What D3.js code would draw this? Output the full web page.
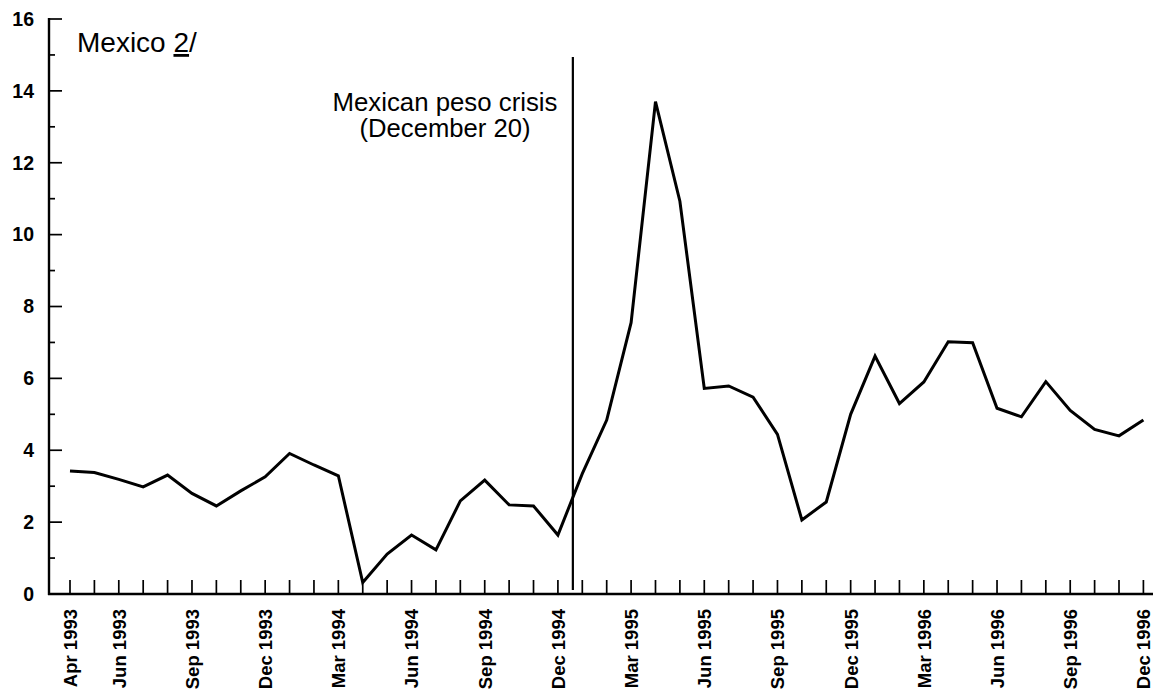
<!DOCTYPE html>
<html>
<head>
<meta charset="utf-8">
<script src="https://cdn.jsdelivr.net/npm/d3@7"></script>
<style>
  html, body { margin: 0; padding: 0; background: #fff; }
  svg { display: block; }
  text { font-family: "Liberation Sans", Arial, Helvetica, sans-serif; fill: #000; }
</style>
</head>
<body>
<svg id="chart" width="1155" height="696"></svg>
<script>
// ---- data ----
const months = [
  "Apr 1993","May 1993","Jun 1993","Jul 1993","Aug 1993","Sep 1993","Oct 1993","Nov 1993","Dec 1993",
  "Jan 1994","Feb 1994","Mar 1994","Apr 1994","May 1994","Jun 1994","Jul 1994","Aug 1994","Sep 1994","Oct 1994","Nov 1994","Dec 1994",
  "Jan 1995","Feb 1995","Mar 1995","Apr 1995","May 1995","Jun 1995","Jul 1995","Aug 1995","Sep 1995","Oct 1995","Nov 1995","Dec 1995",
  "Jan 1996","Feb 1996","Mar 1996","Apr 1996","May 1996","Jun 1996","Jul 1996","Aug 1996","Sep 1996","Oct 1996","Nov 1996","Dec 1996"
];
const values = [
  3.42, 3.38, 3.19, 2.98, 3.31, 2.80, 2.45, 2.87, 3.26,
  3.91, 3.59, 3.29, 0.32, 1.11, 1.64, 1.23, 2.59, 3.17, 2.48, 2.45, 1.64,
  3.35, 4.84, 7.55, 13.70, 10.93, 5.72, 5.79, 5.48, 4.44, 2.06, 2.56, 5.00,
  6.62, 5.30, 5.90, 7.02, 6.99, 5.17, 4.93, 5.91, 5.11, 4.58, 4.40, 4.84
];
const xTickLabels = [
  "Apr 1993","Jun 1993","Sep 1993","Dec 1993","Mar 1994","Jun 1994","Sep 1994","Dec 1994",
  "Mar 1995","Jun 1995","Sep 1995","Dec 1995","Mar 1996","Jun 1996","Sep 1996","Dec 1996"
];
const yTicks = [0, 2, 4, 6, 8, 10, 12, 14, 16];
const yMinorTicks = [1, 3, 5, 7, 9, 11, 13, 15];
const title = ["Mexico ", "2", "/"];
const annotation = ["Mexican peso crisis", "(December 20)"];
const crisisMonth = "Dec 1994";
const crisisDayFraction = 19 / 31;

// ---- layout ----
const svg = d3.select("#chart");
const axisX = 49, axisY = 594;
const x = d3.scalePoint().domain(months).range([70, 1143.4]);
const y = d3.scaleLinear().domain([0, 16]).range([594, 19]);

// y axis line
svg.append("line")
  .attr("x1", axisX).attr("x2", axisX)
  .attr("y1", y(16) - 1).attr("y2", axisY + 1)
  .attr("stroke", "#000").attr("stroke-width", 2.4);
// x axis line
svg.append("line")
  .attr("x1", axisX - 1).attr("x2", 1153)
  .attr("y1", axisY).attr("y2", axisY)
  .attr("stroke", "#000").attr("stroke-width", 2.4);

// y ticks major
svg.append("g").selectAll("line").data(yTicks).join("line")
  .attr("x1", axisX).attr("x2", axisX + 13)
  .attr("y1", d => y(d)).attr("y2", d => y(d))
  .attr("stroke", "#000").attr("stroke-width", 1.7);
// y ticks minor
svg.append("g").selectAll("line").data(yMinorTicks).join("line")
  .attr("x1", axisX).attr("x2", axisX + 6)
  .attr("y1", d => y(d)).attr("y2", d => y(d))
  .attr("stroke", "#000").attr("stroke-width", 1.7);
// y tick labels
svg.append("g").selectAll("text").data(yTicks).join("text")
  .attr("x", 34).attr("y", d => y(d))
  .attr("dy", "0.35em")
  .attr("text-anchor", "end")
  .attr("font-size", 19.5).attr("font-weight", "bold")
  .text(d => d);

// x ticks (every month)
svg.append("g").selectAll("line").data(months).join("line")
  .attr("x1", d => x(d)).attr("x2", d => x(d))
  .attr("y1", axisY).attr("y2", axisY - 14)
  .attr("stroke", "#000").attr("stroke-width", 1.7);
// x tick labels
svg.append("g").selectAll("text").data(xTickLabels).join("text")
  .attr("transform", d => `translate(${x(d)},609) rotate(-90)`)
  .attr("dy", "0.37em")
  .attr("text-anchor", "end")
  .attr("font-size", 18.5).attr("font-weight", "bold")
  .text(d => d);

// data line
const line = d3.line().x((d, i) => x(months[i])).y(d => y(d));
svg.append("path")
  .datum(values)
  .attr("d", line)
  .attr("fill", "none")
  .attr("stroke", "#000")
  .attr("stroke-width", 3)
  .attr("stroke-linejoin", "miter");

// crisis line
const crisisX = x(crisisMonth) + crisisDayFraction * x.step();
svg.append("line")
  .attr("x1", crisisX).attr("x2", crisisX)
  .attr("y1", 57).attr("y2", 590)
  .attr("stroke", "#000").attr("stroke-width", 2.2);

// annotation
const ann = svg.append("text")
  .attr("text-anchor", "middle")
  .attr("font-size", 25);
ann.append("tspan").attr("x", 445).attr("y", 111)
  .attr("textLength", 225).attr("lengthAdjust", "spacingAndGlyphs").text(annotation[0]);
ann.append("tspan").attr("x", 445).attr("y", 137)
  .attr("textLength", 171).attr("lengthAdjust", "spacingAndGlyphs").text(annotation[1]);

// title
const t = svg.append("text")
  .attr("x", 77).attr("y", 52)
  .attr("font-size", 28);
t.append("tspan").text(title[0]);
t.append("tspan").style("text-decoration", "underline").text(title[1]);
t.append("tspan").text(title[2]);
</script>
</body>
</html>
